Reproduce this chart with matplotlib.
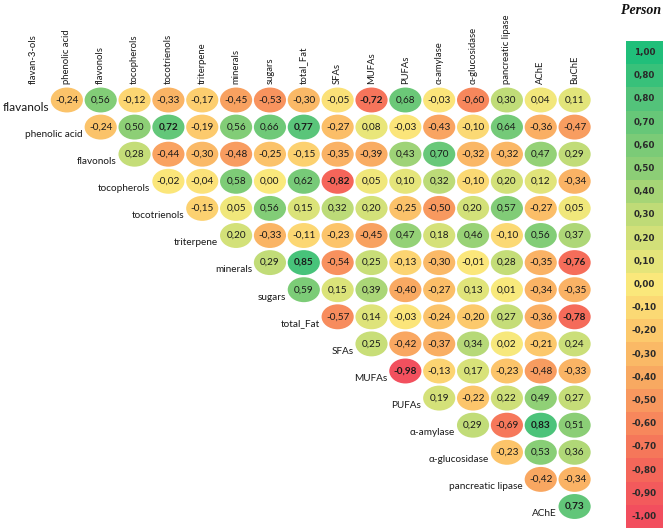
import matplotlib
matplotlib.use('Agg')
import matplotlib.pyplot as plt
from matplotlib.patches import Ellipse
from matplotlib.colors import LinearSegmentedColormap, Normalize

col_labels = ['flavan-3-ols', 'phenolic acid', 'flavonols', 'tocopherols', 'tocotrienols',
              'triterpene', 'minerals', 'sugars', 'total_Fat', 'SFAs', 'MUFAs', 'PUFAs',
              'α-amylase', 'α-glucosidase', 'pancreatic lipase', 'AChE', 'BuChE']
row_labels = ['flavanols', 'phenolic acid', 'flavonols', 'tocopherols', 'tocotrienols',
              'triterpene', 'minerals', 'sugars', 'total_Fat', 'SFAs', 'MUFAs', 'PUFAs',
              'α-amylase', 'α-glucosidase', 'pancreatic lipase', 'AChE']

# upper-triangle correlations; row i starts at column i+1
corr_rows = [
    [-0.24, 0.56, -0.12, -0.33, -0.17, -0.45, -0.53, -0.30, -0.05, -0.72, 0.68, -0.03, -0.60, 0.30, 0.04, 0.11],
    [-0.24, 0.50, 0.72, -0.19, 0.56, 0.66, 0.77, -0.27, 0.08, -0.03, -0.43, -0.10, 0.64, -0.36, -0.47],
    [0.28, -0.44, -0.30, -0.48, -0.25, -0.15, -0.35, -0.39, 0.43, 0.70, -0.32, -0.32, 0.47, 0.29],
    [-0.02, -0.04, 0.58, 0.00, 0.62, -0.82, 0.05, 0.10, 0.32, -0.10, 0.20, 0.12, -0.34],
    [-0.15, 0.05, 0.56, 0.15, 0.32, 0.20, -0.25, -0.50, 0.20, 0.57, -0.27, 0.05],
    [0.20, -0.33, -0.11, -0.23, -0.45, 0.47, 0.18, 0.46, -0.10, 0.56, 0.37],
    [0.29, 0.85, -0.54, 0.25, -0.13, -0.30, -0.01, 0.28, -0.35, -0.76],
    [0.59, 0.15, 0.39, -0.40, -0.27, 0.13, 0.01, -0.34, -0.35],
    [-0.57, 0.14, -0.03, -0.24, -0.20, 0.27, -0.36, -0.78],
    [0.25, -0.42, -0.37, 0.34, 0.02, -0.21, 0.24],
    [-0.98, -0.13, 0.17, -0.23, -0.48, -0.33],
    [0.19, -0.22, 0.22, 0.49, 0.27],
    [0.29, -0.69, 0.83, 0.51],
    [-0.23, 0.53, 0.36],
    [-0.42, -0.34],
    [0.73],
]

cbar_labels = ['1,00', '0,80', '0,80', '0,70', '0,60', '0,50', '0,40', '0,30', '0,20', '0,10',
               '0,00', '-0,10', '-0,20', '-0,30', '-0,40', '-0,50', '-0,60', '-0,70', '-0,80',
               '-0,90', '-1,00']
cbar_values = [1.0, 0.9, 0.8, 0.7, 0.6, 0.5, 0.4, 0.3, 0.2, 0.1, 0.0,
               -0.1, -0.2, -0.3, -0.4, -0.5, -0.6, -0.7, -0.8, -0.9, -1.0]

nodes = [(-1.0, '#f24e5e'), (-0.8, '#f5685a'), (-0.6, '#f7875c'), (-0.4, '#f9aa62'),
         (-0.2, '#fcc96c'), (0.0, '#fbe97c'), (0.1, '#e5e57a'), (0.3, '#c0dc78'),
         (0.5, '#8ecf76'), (0.8, '#55c47a'), (1.0, '#20bf7a')]
cmap = LinearSegmentedColormap.from_list('rg', [((v + 1) / 2, c) for v, c in nodes])
norm = Normalize(-1, 1)

W, H = 666, 529
X0, DX = 33.0, 33.85
Y0, DY = 100.0, 27.1

fig = plt.figure(figsize=(W / 100, H / 100), dpi=100)
ax = fig.add_axes([0, 0, 1, 1])
ax.set_xlim(-X0 / DX, (W - X0) / DX)
ax.set_ylim((H - Y0) / DY, -Y0 / DY)
ax.axis('off')

FONT = 'Lato'
txtc = '#1a1a1a'

for j, lab in enumerate(col_labels):
    ax.text(j, -0.6, lab, rotation=90, ha='center', va='bottom', fontsize=6.8,
            family=FONT, color=txtc)

for i, row in enumerate(corr_rows):
    for k, v in enumerate(row):
        c = i + 1 + k
        ax.add_patch(Ellipse((c, i), 0.95, 0.92, facecolor=cmap(norm(v)),
                             edgecolor='none'))
        s = ('%.2f' % v).replace('.', ',')
        ax.text(c, i, s, ha='center', va='center', fontsize=7.2, family=FONT,
                color=txtc, fontweight='bold' if abs(v) > 0.7 else 'normal')
    fs = 8.6 if i == 0 else 7.2
    ax.text(i + 1 - 0.53, i + 0.27, row_labels[i], ha='right', va='center',
            fontsize=fs, family=FONT, color=txtc)

fig.text(641 / W, 1 - 11 / H, 'Person', ha='center', va='center', fontsize=10,
         family='Liberation Serif', style='italic', fontweight='bold', color='#111111')

# colour key
top, bot = 41.0, 528.0
cax = fig.add_axes([626 / W, 1 - bot / H, 37 / W, (bot - top) / H])
cax.imshow([[v] for v in cbar_values], cmap=cmap, norm=norm, aspect='auto',
           extent=(0, 1, len(cbar_values), 0), interpolation='nearest')
cax.set_xlim(0, 1)
cax.set_ylim(len(cbar_values), 0)
cax.axis('off')
for k, lab in enumerate(cbar_labels):
    cax.text(0.5, k + 0.5, lab, ha='center', va='center', fontsize=6.3,
             family='DejaVu Sans', fontweight='bold', color='#2a2a2a')

fig.savefig('out.png', dpi=100)
